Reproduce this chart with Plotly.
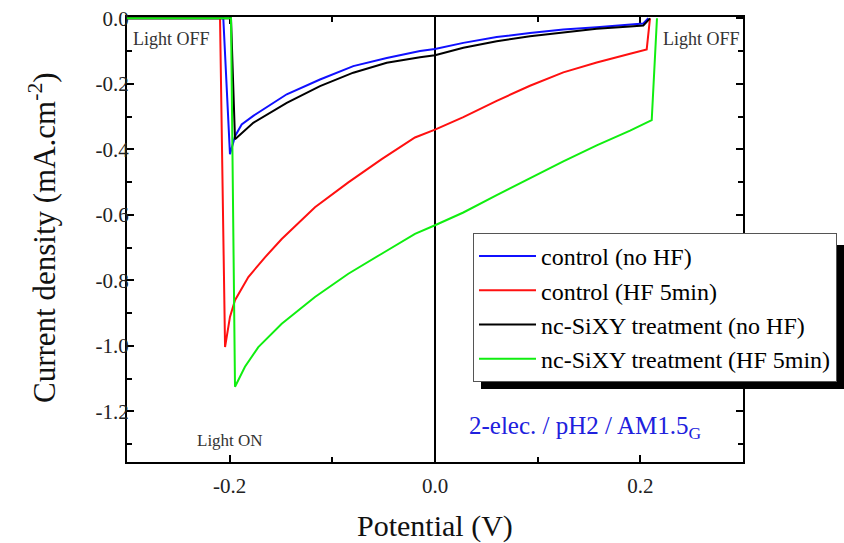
import plotly.graph_objects as go

# ---------------- data ----------------
blue_x = [-0.3, -0.2062, -0.1997, -0.1948, -0.1883, -0.177, -0.1444, -0.112, -0.0796, -0.047,
          -0.0146, 0.0, 0.0276, 0.0601, 0.0925, 0.125, 0.1575, 0.19, 0.2029, 0.2078]
blue_y = [0, 0, -0.415, -0.36, -0.324, -0.298, -0.232, -0.187, -0.146, -0.121,
          -0.100, -0.094, -0.075, -0.057, -0.045, -0.034, -0.027, -0.019, -0.016, 0]

black_x = [-0.3, -0.1987, -0.1948, -0.177, -0.1444, -0.112, -0.0796, -0.047, -0.0146, 0.0,
           0.0276, 0.0601, 0.0925, 0.125, 0.1575, 0.19, 0.2029, 0.2094]
black_y = [0, 0, -0.369, -0.319, -0.258, -0.207, -0.166, -0.136, -0.119, -0.113,
           -0.090, -0.070, -0.055, -0.043, -0.032, -0.025, -0.022, 0]

red_x = [-0.3, -0.2094, -0.2045, -0.1997, -0.1948, -0.1818, -0.1656, -0.1493, -0.1169, -0.0844,
         -0.0519, -0.0195, 0.0, 0.0276, 0.0601, 0.0925, 0.125, 0.1575, 0.19, 0.2062, 0.2094]
red_y = [0, 0, -1.004, -0.912, -0.861, -0.790, -0.730, -0.674, -0.577, -0.501,
         -0.430, -0.364, -0.340, -0.302, -0.252, -0.206, -0.165, -0.135, -0.108, -0.095, 0]

green_x = [-0.3, -0.1987, -0.1948, -0.1851, -0.1721, -0.1493, -0.1169, -0.0844, -0.0519, -0.0195,
           0.0, 0.0276, 0.0601, 0.0925, 0.125, 0.1575, 0.19, 0.2111, 0.2162]
green_y = [0, 0, -1.125, -1.064, -1.004, -0.933, -0.851, -0.780, -0.719, -0.658,
           -0.632, -0.593, -0.540, -0.488, -0.437, -0.388, -0.343, -0.311, 0]

series = [
    ("control (no HF)", blue_x, blue_y, "#1010ff"),
    ("control (HF 5min)", red_x, red_y, "#ff1010"),
    ("nc-SiXY treatment (no HF)", black_x, black_y, "#000000"),
    ("nc-SiXY treatment (HF 5min)", green_x, green_y, "#10ee10"),
]

x_ticks = [-0.2, 0.0, 0.2]
y_ticks = [0.0, -0.2, -0.4, -0.6, -0.8, -1.0, -1.2]

# ---------------- layout geometry ----------------
W, H = 844, 543
L, R, T, B = 127, 743, 17, 462
FONT = "Liberation Serif"


def px(xp):
    return (xp - L) / (R - L)


def py(yp):
    return (B - yp) / (B - T)


fig = go.Figure()
for name, xs, ys, col in series:
    fig.add_trace(go.Scatter(x=xs, y=ys, mode="lines", name=name, legendgroup=name,
                             line=dict(color=col, width=2)))

axis_common = dict(showline=True, linecolor="black", linewidth=2, mirror="ticks",
                   ticks="inside", ticklen=7, tickwidth=1.5, tickcolor="black",
                   showgrid=False, layer="below traces",
                   tickfont=dict(family=FONT, size=21, color="#222"))

fig.update_layout(
    width=W, height=H,
    margin=dict(l=L, r=W - R, t=T, b=H - B, autoexpand=False),
    paper_bgcolor="white", plot_bgcolor="white",
    font=dict(family=FONT),
    showlegend=True,
    legend=dict(x=px(473), y=py(233), xanchor="left", yanchor="top",
                bgcolor="white", bordercolor="#555", borderwidth=1,
                font=dict(family=FONT, size=24, color="black"),
                tracegroupgap=0, itemwidth=57),
    xaxis=dict(range=[-0.3, 0.3], tickvals=x_ticks, ticktext=[f"{v:.1f}" for v in x_ticks],
               zeroline=True, zerolinecolor="black", zerolinewidth=1.5, ticklabelstandoff=4,
               minor=dict(dtick=0.1, tick0=0, ticks="inside", ticklen=5, tickcolor="black", tickwidth=1.5),
               **axis_common),
    yaxis=dict(range=[-1.355, 0.004], tickvals=y_ticks, ticktext=[f"{v:.1f}" for v in y_ticks],
               zeroline=False, ticklabelstandoff=-8,
               minor=dict(dtick=0.1, tick0=0, ticks="inside", ticklen=5, tickcolor="black", tickwidth=1.5),
               **axis_common),
)

# legend shadow
fig.add_shape(type="rect", xref="paper", yref="paper", x0=px(481), x1=px(852), y0=py(389), y1=py(245),
              fillcolor="black", line=dict(width=0), layer="above")

ann = [
    dict(x=px(42), y=py(238), text="Current density (mA.cm<sup>-2</sup>)", textangle=-90,
         font=dict(size=31, color="#111")),
    dict(x=px(435), y=py(526), text="Potential (V)", font=dict(size=30, color="#111")),
    dict(x=px(171), y=py(39), text="Light OFF", font=dict(size=18, color="#333")),
    dict(x=px(701), y=py(39), text="Light OFF", font=dict(size=18, color="#333")),
    dict(x=px(230), y=py(440), text="Light ON", font=dict(size=17, color="#333")),
    dict(x=px(585), y=py(427), text="2-elec. / pH2 / AM1.5<sub>G</sub>", font=dict(size=25, color="#2020dd")),
]
for a in ann:
    f = a.pop("font")
    fig.add_annotation(xref="paper", yref="paper", showarrow=False, xanchor="center", yanchor="middle",
                       font=dict(family=FONT, **f), **a)

fig.write_html("out.html")
